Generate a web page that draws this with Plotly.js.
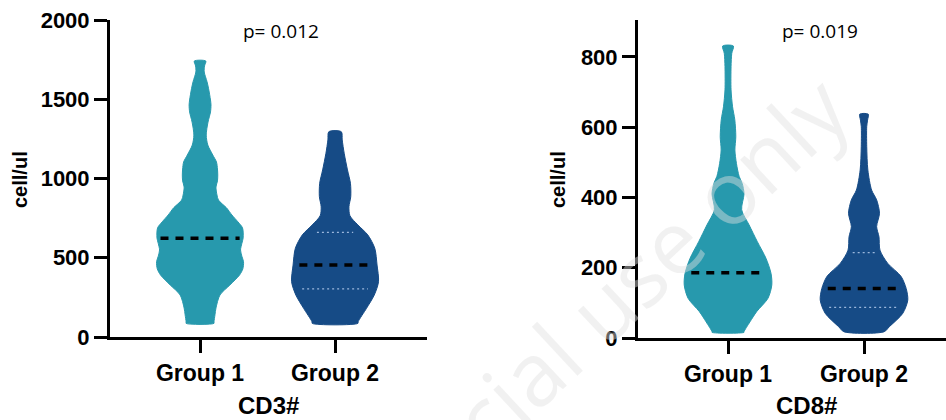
<!DOCTYPE html>
<html><head><meta charset="utf-8">
<script src="https://cdn.plot.ly/plotly-3.0.1.min.js"></script>
<style>html,body{margin:0;padding:0;background:#fff}</style>
</head><body><div id="chart" style="width:946px;height:420px"></div>
<script>
// ---------- data ----------
const categories = ['Group 1', 'Group 2'];
const panelTitles = ['CD3#', 'CD8#'];
const pValues = ['p= 0.012', 'p= 0.019'];
const yAxisTitle = 'cell/ul';
const watermark = 'Non-commercial use only';

// CD3 violin outlines: value levels (cell/ul) and relative density (half-width)
const cd3G1Levels  = [86, 95, 140, 183, 265, 328, 391, 430, 475, 510, 549, 590, 625, 688, 727, 770, 814, 864, 896, 946, 985, 1022, 1060, 1104, 1148, 1211, 1274, 1356, 1420, 1464, 1495, 1569, 1611, 1672, 1710, 1741];
const cd3G1Density = [14, 14, 15, 16, 20, 30, 39.7, 43, 43.7, 42, 40.7, 42, 43.3, 42.7, 38, 32, 26.7, 18.5, 17, 16, 17.5, 17.8, 17.5, 16.5, 12.8, 7.8, 6.2, 8, 10.5, 11, 10.5, 8.5, 7, 4.2, 4.5, 5.8];
const cd3G2Levels  = [86, 97, 181, 265, 349, 454, 560, 644, 707, 765, 822, 885, 970, 1054, 1159, 1243, 1295];
const cd3G2Density = [23, 23.3, 31.7, 39.5, 43.8, 42.3, 40, 33, 23, 15, 14, 15.8, 15.5, 12.5, 9.2, 7.2, 6.3];

// CD8 violin outlines
const cd8G1Levels  = [16, 18, 46, 75, 113, 151, 184, 227, 274, 322, 365, 410, 440, 460, 497, 535, 573, 621, 658, 706, 772, 810, 831];
const cd8G1Density = [15.8, 15.8, 21.7, 28.3, 39.5, 43.3, 42.5, 37.5, 29, 20.8, 13.5, 15.8, 14, 11, 8.3, 6.8, 7.7, 6.7, 4.5, 3, 3, 3.7, 5.3];
const cd8G2Levels  = [18, 32, 70, 108, 141, 175, 213, 250, 288, 317, 355, 393, 421, 478, 545, 602, 620, 637];
const cd8G2Density = [20, 25, 38.3, 43.3, 41.7, 36.7, 23.3, 15.8, 14.8, 12.5, 15.3, 12.5, 7.5, 3.8, 2.7, 2.7, 3.5, 4.2];

// medians and quartiles
const cd3Medians = [623, 454];
const cd8Medians = [186, 141];
const cd3G2Quartiles = [303, 660];
const cd8G2Quartiles = [87, 243];

// ---------- drawing ----------
const colors = ['#2799ad', '#164b86'];
const quartColor = 'rgba(170,195,230,0.9)';
const HALF = 0.322;   // max half-width of a violin in category units

function widthAt(levels, dens, v) {
  const m = Math.max(...dens);
  for (let i = 0; i < levels.length - 1; i++) {
    if (v >= levels[i] && v <= levels[i + 1]) {
      const t = (v - levels[i]) / (levels[i + 1] - levels[i]);
      return (dens[i] + t * (dens[i + 1] - dens[i])) / m * HALF;
    }
  }
  return 0;
}

function violin(levels, dens, idx, xa, ya) {
  const m = Math.max(...dens);
  const xs = [], ys = [];
  for (let i = 0; i < levels.length; i++) { xs.push(idx + dens[i] / m * HALF); ys.push(levels[i]); }
  for (let i = levels.length - 1; i >= 0; i--) { xs.push(idx - dens[i] / m * HALF); ys.push(levels[i]); }
  xs.push(xs[0]); ys.push(ys[0]);
  return {type: 'scatter', mode: 'lines', x: xs, y: ys, fill: 'toself', fillcolor: colors[idx],
    line: {color: colors[idx], width: 1, shape: 'spline', smoothing: 0.8}, xaxis: xa, yaxis: ya, hoverinfo: 'skip'};
}

function hline(levels, dens, idx, v, frac, style, xa, ya) {
  const w = widthAt(levels, dens, v) * frac;
  return {type: 'scatter', mode: 'lines', x: [idx - w, idx + w], y: [v, v], line: style, xaxis: xa, yaxis: ya, hoverinfo: 'skip'};
}

const medStyle = {color: '#000', width: 3.5, dash: '8px,7px'};
const qStyle = {color: quartColor, width: 1.2, dash: '2px,3px'};

const traces = [
  violin(cd3G1Levels, cd3G1Density, 0, 'x', 'y'),
  violin(cd3G2Levels, cd3G2Density, 1, 'x', 'y'),
  violin(cd8G1Levels, cd8G1Density, 0, 'x2', 'y2'),
  violin(cd8G2Levels, cd8G2Density, 1, 'x2', 'y2'),
  hline(cd3G2Levels, cd3G2Density, 1, cd3G2Quartiles[0], 0.8, qStyle, 'x', 'y'),
  hline(cd3G2Levels, cd3G2Density, 1, cd3G2Quartiles[1], 0.6, qStyle, 'x', 'y'),
  hline(cd8G2Levels, cd8G2Density, 1, cd8G2Quartiles[0], 0.85, qStyle, 'x2', 'y2'),
  hline(cd8G2Levels, cd8G2Density, 1, cd8G2Quartiles[1], 0.65, qStyle, 'x2', 'y2'),
  hline(cd3G1Levels, cd3G1Density, 0, cd3Medians[0], 0.92, medStyle, 'x', 'y'),
  hline(cd3G2Levels, cd3G2Density, 1, cd3Medians[1], 0.85, medStyle, 'x', 'y'),
  hline(cd8G1Levels, cd8G1Density, 0, cd8Medians[0], 0.86, medStyle, 'x2', 'y2'),
  hline(cd8G2Levels, cd8G2Density, 1, cd8Medians[1], 0.86, medStyle, 'x2', 'y2')
];

const W = 946, H = 420;
const FONT = 'Liberation Sans, Arial, sans-serif';
function xAxis(domain, range) {
  return {domain: domain, range: range, tickvals: [0, 1], ticktext: categories, showgrid: false, zeroline: false,
    showline: true, linewidth: 3, linecolor: '#000', ticks: 'outside', ticklen: 13, tickwidth: 3, tickcolor: '#000',
    tickfont: {size: 23, family: FONT, weight: 'bold', color: '#000'}, fixedrange: true};
}
function yAxis(domain, range, tickvals, anchor) {
  return {domain: domain, range: range, tickvals: tickvals, showgrid: false, zeroline: false, anchor: anchor,
    showline: true, linewidth: 3, linecolor: '#000', ticks: 'outside', ticklen: 13, tickwidth: 3, tickcolor: '#000',
    tickfont: {size: 22, family: FONT, weight: 'bold', color: '#000'}, fixedrange: true};
}
function ann(text, px, py, font, extra) {
  return Object.assign({text: text, xref: 'paper', yref: 'paper', x: px / W, y: 1 - py / H, showarrow: false,
    xanchor: 'center', yanchor: 'middle', font: font}, extra || {});
}
const pFont = {family: 'Open Sans', size: 19, color: '#000'};
const tFont = {family: FONT, size: 24, weight: 'bold', color: '#000'};
const yFont = {family: FONT, size: 20, weight: 'bold', color: '#000'};
const wFont = {family: 'Open Sans', size: 88, color: 'rgba(225,225,225,0.45)'};

const layout = {
  width: W, height: H, margin: {l: 0, r: 0, t: 0, b: 0}, showlegend: false,
  paper_bgcolor: '#fff', plot_bgcolor: 'rgba(0,0,0,0)', font: {family: FONT, color: '#000'},
  xaxis: Object.assign(xAxis([110 / W, 427 / W], [-0.667, 1.681]), {anchor: 'y'}),
  yaxis: yAxis([1 - 337 / H, 1 - 20 / H], [0, 2000], [0, 500, 1000, 1500, 2000], 'x'),
  xaxis2: Object.assign(xAxis([638 / W, 1], [-0.662, 1.603]), {anchor: 'y2'}),
  yaxis2: yAxis([1 - 338 / H, 1 - 20 / H], [0, 905], [0, 200, 400, 600, 800], 'x2'),
  annotations: [
    ann(watermark, 450, 448, wFont, {textangle: -43}),
    ann(pValues[0], 281, 31, pFont),
    ann(pValues[1], 820, 31, pFont),
    ann(panelTitles[0], 268, 405, tFont),
    ann(panelTitles[1], 806, 405, tFont),
    ann(yAxisTitle, 20, 180, yFont, {textangle: -90}),
    ann(yAxisTitle, 558, 180, yFont, {textangle: -90})
  ]
};

Plotly.newPlot('chart', traces, layout, {displayModeBar: false, staticPlot: true});
</script></body></html>
